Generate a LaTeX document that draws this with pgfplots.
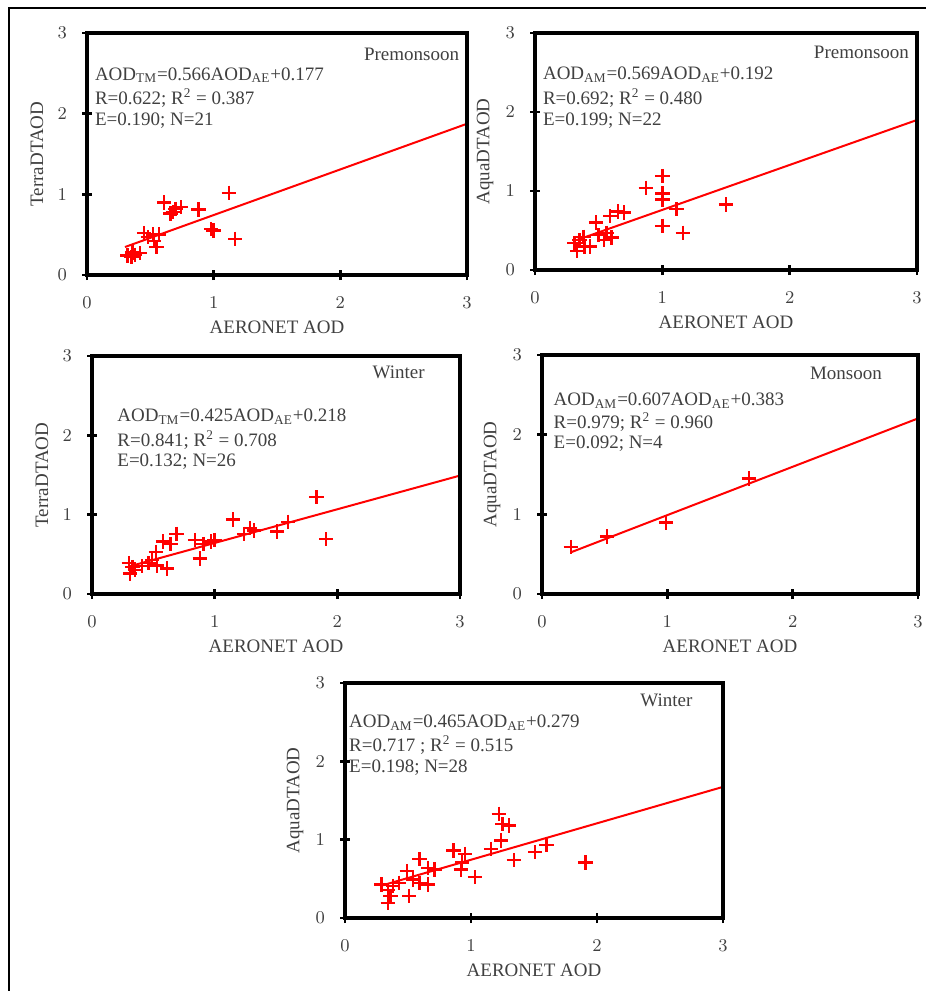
\documentclass[border=0pt]{standalone}
\usepackage{pgfplots}
\pgfplotsset{compat=1.18}
\usepackage{fontspec}
\setmainfont{Liberation Serif}

\definecolor{txt}{HTML}{404040}

\pgfplotsset{
  aod/.style={
    scale only axis, clip=false,
    xmin=0, xmax=3, ymin=0, ymax=3,
    xtick={0,1,2,3}, ytick={0,1,2,3},
    xtick pos=bottom, ytick pos=left,
    tick align=center, major tick length=5pt,
    every tick/.style={black, line width=1.3pt},
    tick label style={font=\fontsize{9}{10}\selectfont, text=txt},
    xticklabel style={yshift=-5pt},
    yticklabel style={xshift=-4pt},
    label style={font=\fontsize{9.5}{11}\selectfont, text=txt},
    xlabel=AERONET AOD,
    xlabel style={at={(rel axis cs:0.5,0)}, anchor=center, yshift=-26pt},
    ylabel style={at={(rel axis cs:0,0.5)}, anchor=center, rotate=0, yshift=25pt},
  },
  pts/.style={only marks, mark=+, mark size=3.6pt, red, mark options={line width=1.2pt}},
  fit/.style={red, line width=1pt, no marks},
}
\tikzset{
  note/.style={anchor=west, font=\fontsize{9.5}{11}\selectfont, text=txt, inner sep=0pt},
  season/.style={anchor=east, font=\fontsize{9.5}{11}\selectfont, text=txt, inner sep=0pt},
  frame/.style={black, line width=1.6pt, line cap=rect},
}

\begin{document}
\begin{tikzpicture}
\useasboundingbox (0,0) rectangle (463pt,-495.5pt);
\draw[line width=0.8pt] (4.5pt,-495.5pt) -- (4.5pt,-4pt) -- (463pt,-4pt);

% Terra, premonsoon
\begin{axis}[aod, at={(43.5pt,-137.5pt)}, anchor=south west,
    width=190pt, height=121pt, ylabel=TerraDTAOD]
  \addplot[pts] table {
    x y
    0.32 0.24
    0.35 0.22
    0.38 0.25
    0.42 0.27
    0.36 0.28
    0.45 0.52
    0.48 0.47
    0.52 0.50
    0.55 0.35
    0.57 0.50
    0.53 0.42
    0.61 0.90
    0.66 0.76
    0.70 0.82
    0.74 0.84
    0.88 0.81
    0.98 0.57
    1.00 0.55
    1.12 1.02
    1.17 0.45
    0.68 0.78
  };
  \addplot[fit] coordinates {(0.30,0.347) (3,1.875)};
  \draw[frame] (rel axis cs:0,0) rectangle (rel axis cs:1,1);
  \node[season] at (rel axis cs:0.98,0.91) {Premonsoon};
  \node[note] at (rel axis cs:0.02,0.826) {AOD\textsubscript{TM}=0.566AOD\textsubscript{AE}+0.177};
  \node[note] at (rel axis cs:0.02,0.731) {R=0.622; R\textsuperscript{2} = 0.387};
  \node[note] at (rel axis cs:0.02,0.636) {E=0.190; N=21};
\end{axis}

% Aqua, premonsoon
\begin{axis}[aod, at={(267.5pt,-135pt)}, anchor=south west,
    width=191pt, height=118.5pt, ylabel=AquaDTAOD]
  \addplot[pts] table {
    x y
    1.00 1.19
    0.87 1.04
    1.00 0.97
    1.00 0.89
    1.11 0.77
    1.50 0.83
    1.00 0.56
    1.16 0.47
    0.65 0.74
    0.70 0.73
    0.59 0.68
    0.48 0.60
    0.56 0.47
    0.60 0.41
    0.54 0.38
    0.31 0.34
    0.35 0.38
    0.39 0.30
    0.33 0.24
    0.38 0.42
    0.43 0.30
    0.50 0.44
  };
  \addplot[fit] coordinates {(0.33,0.380) (3,1.899)};
  \draw[frame] (rel axis cs:0,0) rectangle (rel axis cs:1,1);
  \node[season] at (rel axis cs:0.98,0.92) {Premonsoon};
  \node[note] at (rel axis cs:0.02,0.823) {AOD\textsubscript{AM}=0.569AOD\textsubscript{AE}+0.192};
  \node[note] at (rel axis cs:0.02,0.726) {R=0.692; R\textsuperscript{2} = 0.480};
  \node[note] at (rel axis cs:0.02,0.629) {E=0.199; N=22};
\end{axis}

% Terra, winter
\begin{axis}[aod, at={(46pt,-297pt)}, anchor=south west,
    width=184pt, height=119pt, ylabel=TerraDTAOD]
  \addplot[pts] table {
    x y
    0.30 0.39
    0.33 0.34
    0.31 0.26
    0.35 0.30
    0.41 0.35
    0.46 0.39
    0.49 0.43
    0.52 0.53
    0.61 0.32
    0.58 0.66
    0.64 0.63
    0.69 0.76
    0.84 0.68
    0.88 0.45
    0.91 0.63
    0.97 0.66
    1.00 0.68
    1.15 0.94
    1.24 0.76
    1.29 0.83
    1.32 0.80
    1.51 0.79
    1.60 0.91
    1.83 1.22
    1.91 0.69
    0.53 0.36
  };
  \addplot[fit] coordinates {(0.30,0.346) (3,1.493)};
  \draw[frame] (rel axis cs:0,0) rectangle (rel axis cs:1,1);
  \node[season] at (rel axis cs:0.905,0.93) {Winter};
  \node[note] at (rel axis cs:0.068,0.744) {AOD\textsubscript{TM}=0.425AOD\textsubscript{AE}+0.218};
  \node[note] at (rel axis cs:0.068,0.647) {R=0.841; R\textsuperscript{2} = 0.708};
  \node[note] at (rel axis cs:0.068,0.555) {E=0.132; N=26};
\end{axis}

% Aqua, monsoon
\begin{axis}[aod, at={(271pt,-297pt)}, anchor=south west,
    width=188pt, height=119.5pt, ylabel=AquaDTAOD]
  \addplot[pts] table {
    x y
    0.23 0.59
    0.52 0.72
    0.99 0.90
    1.65 1.45
  };
  \addplot[fit] coordinates {(0.23,0.523) (3,2.204)};
  \draw[frame] (rel axis cs:0,0) rectangle (rel axis cs:1,1);
  \node[season] at (rel axis cs:0.905,0.925) {Monsoon};
  \node[note] at (rel axis cs:0.03,0.81) {AOD\textsubscript{AM}=0.607AOD\textsubscript{AE}+0.383};
  \node[note] at (rel axis cs:0.03,0.72) {R=0.979; R\textsuperscript{2} = 0.960};
  \node[note] at (rel axis cs:0.03,0.628) {E=0.092; N=4};
\end{axis}

% Aqua, winter
\begin{axis}[aod, at={(172.5pt,-459pt)}, anchor=south west,
    width=189pt, height=117.5pt, ylabel=AquaDTAOD]
  \addplot[pts] table {
    x y
    1.22 1.33
    1.25 1.20
    1.30 1.18
    1.24 0.99
    1.16 0.88
    1.51 0.84
    1.60 0.93
    1.34 0.74
    1.91 0.71
    0.86 0.86
    0.95 0.82
    0.93 0.71
    0.92 0.62
    1.03 0.52
    0.59 0.75
    0.66 0.64
    0.71 0.62
    0.49 0.60
    0.54 0.49
    0.59 0.45
    0.66 0.43
    0.51 0.28
    0.43 0.45
    0.38 0.41
    0.29 0.43
    0.34 0.36
    0.36 0.28
    0.34 0.19
  };
  \addplot[fit] coordinates {(0.28,0.409) (3,1.674)};
  \draw[frame] (rel axis cs:0,0) rectangle (rel axis cs:1,1);
  \node[season] at (rel axis cs:0.92,0.928) {Winter};
  \node[note] at (rel axis cs:0.01,0.83) {AOD\textsubscript{AM}=0.465AOD\textsubscript{AE}+0.279};
  \node[note] at (rel axis cs:0.01,0.736) {R=0.717 ; R\textsuperscript{2} = 0.515};
  \node[note] at (rel axis cs:0.01,0.64) {E=0.198; N=28};
\end{axis}
\end{tikzpicture}
\end{document}
